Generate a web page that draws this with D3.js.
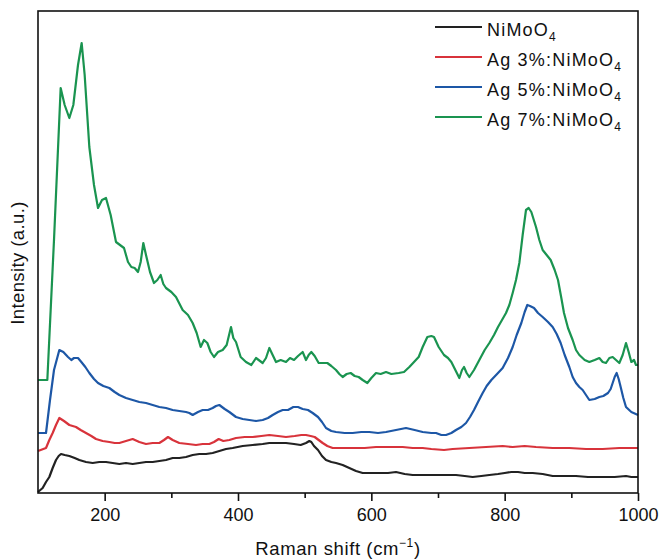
<!DOCTYPE html>
<html>
<head>
<meta charset="utf-8">
<script src="https://cdn.jsdelivr.net/npm/d3@7"></script>
<style>
  body { margin: 0; background: #fff; }
  svg { display: block; font-family: "Liberation Sans", Arial, sans-serif; }
</style>
</head>
<body>
<script>
// Raman shift (cm-1) / intensity (a.u.) pairs
var niMoO4 = [[100,1],[107,5],[112,11],[117,16],[122,25],[127,33],[131,37],[134.5,39],[140,38],[147,37],[155,35],[162,33],[172,31],[182,30],[192,31],[202,31],[212,30],[222,29],[232,30],[242,29],[252,30],[262,31],[272,31],[282,32],[292,33],[302,35],[312,35],[322,36],[332,38],[342,39],[352,39],[362,40],[372,42],[382,44],[392,45],[407,47],[422,48],[437,49],[447,50],[460,50],[472,50],[484,49],[494,48],[502,50],[507,52],[510,51],[514,47],[520,43],[526,37],[532,33],[540,31],[547,30],[557,28],[567,25],[577,22],[587,20],[600,20],[612,20],[625,20],[637,21],[650,19],[662,18],[675,18],[687,18],[697,18],[712,18],[727,18],[740,17],[752,16],[765,17],[777,18],[790,19],[800,20],[810,21],[820,21],[830,20],[842,20],[857,19],[872,17],[890,17],[907,17],[925,16],[947,16],[965,16],[982,17],[990,16],[1000,16]]

var ag3 = [[100,42],[112,45],[117,53],[122,60],[127,68],[132,75],[139,72],[147,68],[152,67],[157,66],[164,63],[172,60],[180,57],[187,54],[197,52],[207,51],[215,50],[222,50],[232,52],[242,54],[252,51],[262,49],[272,50],[282,50],[289,53],[295,56],[302,53],[312,50],[325,49],[337,48],[347,49],[357,49],[364,51],[371,54],[378,52],[387,53],[397,55],[410,56],[422,56],[435,57],[447,58],[460,57],[472,56],[485,57],[495,58],[502,58],[509,57],[515,56],[521,53],[527,50],[534,47],[542,45],[557,45],[572,45],[590,45],[607,46],[627,46],[647,46],[662,45],[677,45],[690,44],[709,43],[722,44],[747,45],[772,46],[797,47],[812,46],[830,47],[847,46],[872,45],[897,45],[922,44],[947,44],[972,45],[1000,45]]

var ag5 = [[100,60],[112,60],[118,93],[124,123],[132,143],[138,141],[145,136],[150,133],[154,135],[160,135],[165,131],[171,126],[177,120],[184,114],[190,110],[198,107],[207,105],[215,101],[222,98],[232,95],[242,93],[252,91],[262,90],[272,88],[282,86],[292,85],[302,83],[312,82],[322,81],[327,80],[332,78],[340,81],[347,83],[355,83],[362,85],[367,87],[372,88],[380,84],[387,81],[397,76],[407,74],[417,73],[427,72],[437,73],[445,75],[452,78],[460,81],[467,83],[475,83],[483,86],[490,86],[497,84],[505,83],[512,80],[520,76],[526,71],[532,65],[540,62],[547,61],[560,60],[572,60],[585,61],[597,61],[610,60],[622,61],[637,63],[652,65],[665,63],[677,61],[690,60],[697,60],[705,58],[712,58],[720,60],[727,63],[735,66],[742,70],[748,76],[754,83],[760,91],[767,100],[773,107],[780,113],[790,120],[797,125],[805,135],[812,146],[818,158],[825,170],[830,181],[834,188],[838,187],[844,185],[850,180],[857,176],[865,171],[872,166],[878,159],[884,150],[890,138],[897,126],[902,116],[907,110],[912,106],[917,103],[922,98],[927,93],[935,94],[942,96],[948,97],[955,100],[959,104],[962,110],[965,116],[968,120],[971,114],[974,106],[978,95],[982,86],[990,81],[1000,78]]

var ag7 = [[100,113],[114,113],[124,253],[134,405],[140,388],[147,375],[153,388],[160,428],[165.5,450],[170,418],[177,346],[184,308],[190,285],[196,293],[202,295],[209,278],[217,251],[223,248],[229,245],[235,231],[240,226],[245,225],[250,221],[254,231],[258,250],[262,238],[268,221],[274,210],[279,213],[284,218],[288,209],[292,205],[300,201],[307,196],[317,183],[325,178],[332,170],[338,160],[344,146],[349,153],[354,150],[359,141],[364,136],[370,141],[377,143],[383,148],[389.5,166],[393,155],[397,151],[404,136],[412,131],[420,128],[427,135],[437,130],[442,135],[447,145],[452,138],[457,131],[464,133],[472,131],[478,135],[484,133],[490,137],[497,141],[502,133],[506,138],[510,141],[515,137],[521,130],[527,130],[534,130],[540,127],[547,123],[552,119],[557,116],[563,119],[569,120],[575,117],[581,116],[587,113],[594,110],[600,115],[607,120],[614,119],[622,121],[630,119],[641,120],[649,121],[657,126],[664,131],[671,136],[677,146],[684,156],[690,157],[694,156],[701,146],[709,138],[715,135],[720,131],[726,123],[732,115],[736,123],[739,126],[743,120],[747,116],[754,123],[762,133],[770,143],[777,150],[784,158],[790,166],[796,173],[802,180],[807,188],[812,200],[817,213],[822,230],[827,258],[832,283],[836,285],[840,281],[847,266],[852,253],[857,243],[863,238],[869,233],[875,223],[880,213],[885,195],[889,180],[895,165],[902,153],[907,143],[912,138],[920,133],[927,131],[935,133],[942,135],[947,131],[952,130],[957,135],[962,136],[967,133],[972,130],[977,138],[982,150],[986,141],[990,131],[994,133],[997,128],[1000,128]]

var seriesNames = ["NiMoO", "Ag 3%:NiMoO", "Ag 5%:NiMoO", "Ag 7%:NiMoO"]
var seriesColors = ["#222222", "#d8333b", "#1d57a6", "#1a9450"]
var xTickMajor = [200, 400, 600, 800, 1000]
var xTickMinor = [300, 500, 700, 900]

var W = 662, H = 560
var margin = {left: 38, top: 11, right: 24, bottom: 67}
var w = W - margin.left - margin.right
var h = H - margin.top - margin.bottom

var svg = d3.select("body").append("svg").attr("width", W).attr("height", H)
var g = svg.append("g").attr("transform", "translate(" + margin.left + "," + margin.top + ")")

var x = d3.scaleLinear().domain([100, 1000]).range([0, w])
var y = d3.scaleLinear().domain([0, 482]).range([h, 0])

var line = d3.line()
    .x(function(d) { return x(d[0]) })
    .y(function(d) { return y(d[1]) })

// draw green first so the lower traces sit on top, like the original
var allSeries = [niMoO4, ag3, ag5, ag7]
for (var i = allSeries.length - 1; i >= 0; i--) {
    g.append("path")
        .datum(allSeries[i])
        .attr("fill", "none")
        .attr("stroke", seriesColors[i])
        .attr("stroke-width", 2.2)
        .attr("stroke-linejoin", "round")
        .attr("d", line)
}

// frame
g.append("rect")
    .attr("width", w).attr("height", h)
    .attr("fill", "none").attr("stroke", "#111").attr("stroke-width", 1.6)

// x axis: major ticks with labels, minor ticks without
var xAxis = g.append("g").attr("transform", "translate(0," + h + ")")
xAxis.call(d3.axisBottom(x).tickValues(xTickMajor).tickSize(8).tickPadding(7).tickFormat(d3.format("d")))
xAxis.select(".domain").remove()
xAxis.selectAll(".tick line").attr("stroke", "#111").attr("stroke-width", 1.6)
xAxis.selectAll(".tick text")
    .attr("font-family", "'Liberation Sans', Arial, sans-serif")
    .attr("font-size", 18).attr("fill", "#111")

var xMinor = g.append("g").attr("transform", "translate(0," + h + ")")
xMinor.call(d3.axisBottom(x).tickValues(xTickMinor).tickSize(5).tickFormat(""))
xMinor.select(".domain").remove()
xMinor.selectAll(".tick line").attr("stroke", "#111").attr("stroke-width", 1.6)

// axis titles
var xTitle = svg.append("text")
    .attr("x", margin.left + w / 2).attr("y", 555)
    .attr("text-anchor", "middle")
    .attr("font-size", 18.5).attr("letter-spacing", 0.6).attr("fill", "#111")
xTitle.append("tspan").text("Raman shift (cm")
xTitle.append("tspan").attr("font-size", 12).attr("dy", -8).text("\u22121")
xTitle.append("tspan").attr("dy", 8).text(")")

svg.append("text")
    .attr("transform", "translate(24," + (margin.top + h / 2 + 11) + ") rotate(-90)")
    .attr("text-anchor", "middle")
    .attr("font-size", 18.5).attr("letter-spacing", 0.4).attr("fill", "#111")
    .text("Intensity (a.u.)")

// legend
var legend = svg.append("g").attr("transform", "translate(435,27)")
seriesNames.forEach(function(name, k) {
    var row = legend.append("g").attr("transform", "translate(0," + (k * 30) + ")")
    row.append("line")
        .attr("x1", 0).attr("x2", 47)
        .attr("stroke", seriesColors[k]).attr("stroke-width", 2.2)
    var t = row.append("text")
        .attr("x", 52).attr("y", 9)
        .attr("font-size", 18).attr("letter-spacing", 1.2).attr("fill", "#111")
    t.append("tspan").text(name)
    t.append("tspan").attr("font-size", 12).attr("dy", 5).text("4")
})
</script>
</body>
</html>
